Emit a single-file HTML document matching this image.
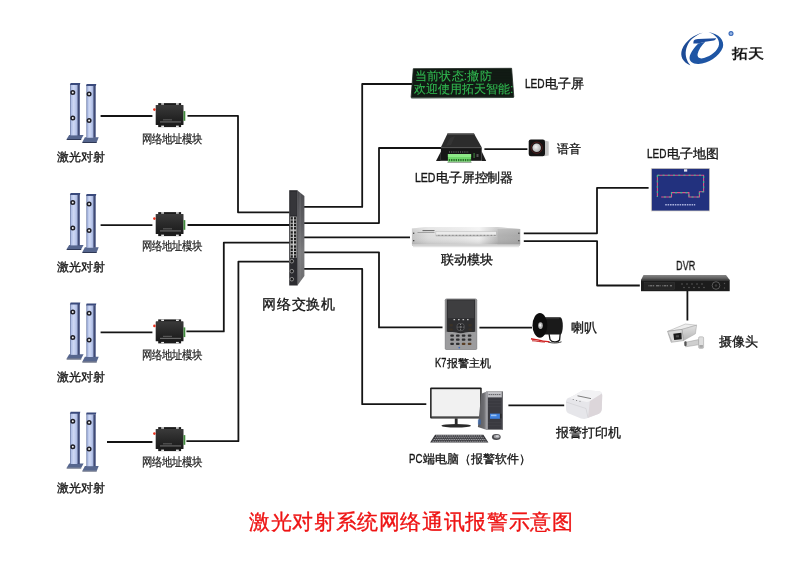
<!DOCTYPE html>
<html><head><meta charset="utf-8">
<style>
html,body{margin:0;padding:0;background:#fff;}
body{width:800px;height:579px;overflow:hidden;position:relative;font-family:"Liberation Sans",sans-serif;color:#151515;}
.t{position:absolute;white-space:nowrap;line-height:1;-webkit-text-stroke:0.32px #151515;will-change:transform;}
svg{position:absolute;left:0;top:0;}
.n{display:inline-block;transform-origin:0 0;font-size:12px;-webkit-text-stroke:0.35px #151515;}
</style></head><body>
<svg width="800" height="579" viewBox="0 0 800 579">
<defs>
 <linearGradient id="postF" x1="0" x2="1" y1="0" y2="0">
  <stop offset="0" stop-color="#8e9ece"/><stop offset="0.15" stop-color="#b4c2e8"/><stop offset="0.45" stop-color="#cfd9f4"/><stop offset="0.8" stop-color="#b6c4ea"/><stop offset="1" stop-color="#9aaad8"/>
 </linearGradient>
 <linearGradient id="modG" x1="0" x2="0" y1="0" y2="1">
  <stop offset="0" stop-color="#3a3a3a"/><stop offset="0.6" stop-color="#262626"/><stop offset="1" stop-color="#1a1a1a"/>
 </linearGradient>
 <linearGradient id="swSide" x1="0" x2="0" y1="0" y2="1">
  <stop offset="0" stop-color="#4c4c50"/><stop offset="0.35" stop-color="#606064"/><stop offset="0.65" stop-color="#7c7c7e"/><stop offset="1" stop-color="#6c6c6e"/>
 </linearGradient>
 <linearGradient id="linkG" x1="0" x2="1" y1="0" y2="0">
  <stop offset="0" stop-color="#c4c4c4"/><stop offset="0.15" stop-color="#dcdcdc"/><stop offset="0.45" stop-color="#e6e6e6"/><stop offset="0.62" stop-color="#f0f0f0"/><stop offset="0.78" stop-color="#bdbdbd"/><stop offset="1" stop-color="#aeaeae"/>
 </linearGradient>
 <linearGradient id="linkV" x1="0" x2="0" y1="0" y2="1">
  <stop offset="0" stop-color="#fff" stop-opacity="0.35"/><stop offset="0.5" stop-color="#fff" stop-opacity="0"/><stop offset="1" stop-color="#000" stop-opacity="0.12"/>
 </linearGradient>
 <linearGradient id="dvrTop" x1="0" x2="0" y1="0" y2="1">
  <stop offset="0" stop-color="#8a8a8a"/><stop offset="1" stop-color="#4a4a4a"/>
 </linearGradient>
 <linearGradient id="towerSide" x1="0" x2="1" y1="0" y2="0">
  <stop offset="0" stop-color="#58585c"/><stop offset="0.75" stop-color="#6e6e72"/><stop offset="1" stop-color="#9a9a9e"/>
 </linearGradient>
 <linearGradient id="towerF" x1="0" x2="1" y1="0" y2="0">
  <stop offset="0" stop-color="#8a8a8e"/><stop offset="0.12" stop-color="#3a3a3e"/><stop offset="0.88" stop-color="#3a3a3e"/><stop offset="1" stop-color="#7a7a7e"/>
 </linearGradient>
 <linearGradient id="camG" x1="0" x2="0" y1="0" y2="1">
  <stop offset="0" stop-color="#f6f6f6"/><stop offset="1" stop-color="#cfcfcf"/>
 </linearGradient>
 <linearGradient id="camSide" x1="0" x2="0" y1="0" y2="1"><stop offset="0" stop-color="#e2e2e2"/><stop offset="1" stop-color="#b4b4b4"/></linearGradient>
 <radialGradient id="spkC" cx="0.4" cy="0.4" r="0.6">
  <stop offset="0" stop-color="#f4f4f4"/><stop offset="1" stop-color="#b0b0b0"/>
 </radialGradient>
 <pattern id="ledDots" x="0" y="0" width="1.6" height="1.6" patternUnits="userSpaceOnUse">
  <rect width="1.6" height="1.6" fill="#0c140f"/><circle cx="0.8" cy="0.8" r="0.45" fill="#1d2e22"/>
 </pattern>
 <g id="posts">
  <polygon points="66.7,249.1 69.2,244.9 83.6,244.9 81.3,249.1" fill="#56668e"/>
  <polygon points="66.7,249.1 81.3,249.1 81.2,250 66.6,250" fill="#2e3856"/>
  <rect x="70.4" y="194.4" width="7.3" height="51" fill="url(#postF)"/>
  <rect x="70.1" y="194.4" width="0.6" height="51" fill="#5a6a98"/>
  <rect x="77.5" y="194.4" width="2.3" height="51" fill="#3e4a78"/>
  <polygon points="69.9,195.1 70.6,193.1 80.3,193.1 79.8,195.1" fill="#3a4a7c"/>
  <circle cx="72.8" cy="202.6" r="1.75" fill="#f6f6f6" stroke="#1e1e26" stroke-width="1.5"/>
  <circle cx="72.8" cy="228.1" r="1.75" fill="#f6f6f6" stroke="#1e1e26" stroke-width="1.5"/>
  <polygon points="82.4,252.1 84.9,247.3 98.7,247.3 96.8,252.1" fill="#56668e"/>
  <polygon points="82.4,252.1 96.8,252.1 96.7,253 82.3,253" fill="#2e3856"/>
  <rect x="86.8" y="195.8" width="6.6" height="51.8" fill="url(#postF)"/>
  <rect x="86.5" y="195.8" width="0.6" height="51.8" fill="#5a6a98"/>
  <rect x="93.3" y="195.8" width="2.4" height="51.8" fill="#3e4a78"/>
  <polygon points="86,196 86.6,194 96.3,194 95.8,196" fill="#3a4a7c"/>
  <circle cx="89.1" cy="203.9" r="1.75" fill="#f6f6f6" stroke="#1e1e26" stroke-width="1.5"/>
  <circle cx="89.1" cy="230.5" r="1.75" fill="#f6f6f6" stroke="#1e1e26" stroke-width="1.5"/>
 </g>
 <g id="mod">
  <rect x="158.2" y="212.1" width="22.9" height="24" fill="#1c1c1c"/>
  <rect x="161.2" y="212.2" width="2.8" height="1.5" fill="#e6e6e6"/>
  <rect x="176" y="212.2" width="2.8" height="1.5" fill="#e6e6e6"/>
  <rect x="161.2" y="234.6" width="2.8" height="1.4" fill="#e6e6e6"/>
  <rect x="176" y="234.6" width="2.8" height="1.4" fill="#e6e6e6"/>
  <rect x="155.7" y="214" width="27.8" height="20" rx="0.6" fill="url(#modG)"/>
  <rect x="183.5" y="220.1" width="1.8" height="9.7" fill="#3f8a3a"/>
  <circle cx="154.4" cy="218.6" r="1.3" fill="#e8321e"/>
  <rect x="163" y="228.6" width="9" height="0.6" fill="#8a8a8a"/>
  <rect x="160" y="230.6" width="21" height="0.7" fill="#9a9a9a"/>
 </g>
</defs>

<!-- connection lines -->
<g fill="none" stroke="#141414" stroke-width="1.8" stroke-linejoin="round">
 <path d="M100.6 116H152.4"/>
 <path d="M100.6 225.2H152.4"/>
 <path d="M100.6 332.4H152.4"/>
 <path d="M107 442H152.4" stroke-width="2"/>
 <path d="M187.5 115.8H238V212.3H289.5"/>
 <path d="M187.5 225H289.5"/>
 <path d="M186.4 331.4H223.8V242.6H289.5"/>
 <path d="M186.4 441.2H238.4V261.6H289.5"/>
 <path d="M304 206.9H362.2V84H412"/>
 <path d="M304 223.1H379V148H441"/>
 <path d="M304 237.4H410"/>
 <path d="M304 252.3H379V327.4H442.5"/>
 <path d="M304 268.8H362.2V404.2H426.3"/>
 <path d="M484.4 149.1H527.4"/>
 <path d="M479.4 327.6H532"/>
 <path d="M508.4 405.4H564.2"/>
 <path d="M523.8 233.3H597V187.9H648.6"/>
 <path d="M523.8 241.2H597.1V285.5H639.8"/>
 <path d="M687.4 291V320.5"/>
</g>

<use href="#posts" transform="translate(0,-110)"/>
<use href="#posts"/>
<use href="#posts" transform="translate(0,109.4)"/>
<use href="#posts" transform="translate(0,218.6)"/>
<use href="#mod" transform="translate(0,-109)"/>
<use href="#mod"/>
<use href="#mod" transform="translate(0,107.3)"/>
<use href="#mod" transform="translate(0,215)"/>
<!-- switch -->
<polygon points="297.4,190.4 304.4,196 304.4,276 297.4,285.5" fill="url(#swSide)"/>
<rect x="299.8" y="193" width="0.5" height="88" fill="#9a9a9c" opacity="0.6"/>
<rect x="289.2" y="190.2" width="8.4" height="95.3" fill="#2c2c30"/>
<rect x="290.3" y="192" width="6.2" height="23" fill="#36363a"/>
<rect x="290.1" y="216.6" width="6.6" height="41.2" fill="#b4b4b4"/>
<g fill="#1e1e1e">
<rect x="290.7" y="217.2" width="2.1" height="2.3"/><rect x="294.0" y="217.2" width="2.1" height="2.3"/>
<rect x="290.7" y="220.5" width="2.1" height="2.3"/><rect x="294.0" y="220.5" width="2.1" height="2.3"/>
<rect x="290.7" y="223.8" width="2.1" height="2.3"/><rect x="294.0" y="223.8" width="2.1" height="2.3"/>
<rect x="290.7" y="227.1" width="2.1" height="2.3"/><rect x="294.0" y="227.1" width="2.1" height="2.3"/>
<rect x="290.7" y="231.3" width="2.1" height="2.3"/><rect x="294.0" y="231.3" width="2.1" height="2.3"/>
<rect x="290.7" y="234.6" width="2.1" height="2.3"/><rect x="294.0" y="234.6" width="2.1" height="2.3"/>
<rect x="290.7" y="237.9" width="2.1" height="2.3"/><rect x="294.0" y="237.9" width="2.1" height="2.3"/>
<rect x="290.7" y="241.2" width="2.1" height="2.3"/><rect x="294.0" y="241.2" width="2.1" height="2.3"/>
<rect x="290.7" y="245.4" width="2.1" height="2.3"/><rect x="294.0" y="245.4" width="2.1" height="2.3"/>
<rect x="290.7" y="248.7" width="2.1" height="2.3"/><rect x="294.0" y="248.7" width="2.1" height="2.3"/>
<rect x="290.7" y="252.0" width="2.1" height="2.3"/><rect x="294.0" y="252.0" width="2.1" height="2.3"/>
<rect x="290.7" y="255.3" width="2.1" height="2.3"/><rect x="294.0" y="255.3" width="2.1" height="2.3"/>
</g>
<rect x="293.2" y="216.6" width="0.5" height="41.2" fill="#e8e8e8"/>
<circle cx="291.8" cy="261.2" r="1.8" fill="#1a1a1a" stroke="#9a9a9a" stroke-width="0.9"/>
<circle cx="291.8" cy="271.2" r="1.8" fill="#1a1a1a" stroke="#9a9a9a" stroke-width="0.9"/>
<circle cx="291.8" cy="279.2" r="1.8" fill="#1a1a1a" stroke="#9a9a9a" stroke-width="0.9"/>

<!-- LED screen -->
<polygon points="413.3,68.7 511.6,68.3 513.8,96.9 411.1,97.4" fill="url(#ledDots)" stroke="#202822" stroke-width="0.8"/>
<polygon points="411.1,97.4 513.8,96.9 513.6,98 411.4,98.6" fill="#3a4a40"/>

<!-- LED controller -->
<polygon points="447.5,133.6 474,133.6 481.8,147.6 440.8,147.6" fill="#2c2c2c"/>
<polygon points="447.5,133.6 474,133.6 474.6,135 447,135" fill="#4a4a4a"/>
<polygon points="450,138 455,136 451,145 446,146" fill="#3a3a3a" opacity="0.6"/>
<polygon points="436,161 440.9,151.5 440.9,161" fill="#1c1c1c"/>
<polygon points="486.2,161 481.7,151.5 481.7,161" fill="#1c1c1c"/>
<rect x="440.9" y="147.6" width="40.8" height="13.2" fill="#161616"/>
<rect x="440.9" y="147.6" width="40.8" height="0.6" fill="#3c3c3c"/>
<path d="M449 152H469" stroke="#9a9a9a" stroke-width="0.8" stroke-dasharray="1 1.2"/>
<rect x="447.9" y="154" width="23.2" height="7.8" fill="#6fd86a"/>
<rect x="447.9" y="154" width="23.2" height="3" fill="#8ee888"/>
<g fill="#2a6a2a"><rect x="448.8" y="159" width="1.3" height="2.2"/><rect x="451.1" y="159" width="1.3" height="2.2"/><rect x="453.4" y="159" width="1.3" height="2.2"/><rect x="455.7" y="159" width="1.3" height="2.2"/><rect x="458" y="159" width="1.3" height="2.2"/><rect x="460.3" y="159" width="1.3" height="2.2"/><rect x="462.6" y="159" width="1.3" height="2.2"/><rect x="464.9" y="159" width="1.3" height="2.2"/><rect x="467.2" y="159" width="1.3" height="2.2"/><rect x="469.5" y="159" width="1.2" height="2.2"/></g>
<rect x="447.5" y="161.8" width="24" height="1" fill="#8a9a8a"/>
<rect x="473.5" y="153" width="1.2" height="5" fill="#3a7a3a"/>
<rect x="476.5" y="154" width="2" height="3" fill="#555"/>

<!-- speaker -->
<polygon points="544.5,140.4 548.7,141.5 548.7,155.6 544.5,156.2" fill="#c4c4c4"/>
<rect x="528.7" y="139.4" width="16.3" height="16.8" rx="2.2" fill="#141414"/>
<circle cx="536.7" cy="147.7" r="5.6" fill="none" stroke="#7a2222" stroke-width="0.6"/>
<circle cx="536.7" cy="147.7" r="4.3" fill="url(#spkC)"/>

<!-- link module -->
<polygon points="411.9,228.6 426,227 497.5,227 520.2,229.1 520.2,244.4 411.9,244.4" fill="url(#linkG)"/>
<polygon points="411.9,228.6 426,227 497.5,227 520.2,229.1 520.2,244.4 411.9,244.4" fill="url(#linkV)"/>
<rect x="412" y="244.4" width="108" height="1.4" fill="#c4c4c4"/>
<rect x="413" y="245.8" width="106" height="1.4" fill="#e2e2e2"/>
<rect x="497.5" y="229" width="22.7" height="15.4" fill="#a0a0a0" opacity="0.35"/>
<rect x="435.9" y="231.5" width="60.4" height="5.2" fill="#ebebeb" stroke="#a8a8a8" stroke-width="0.35"/>
<path d="M436.5 235.3H496" stroke="#5a5a5a" stroke-width="0.9" stroke-dasharray="0.9 0.5"/>
<rect x="422.5" y="230.2" width="12" height="0.9" fill="#555"/>
<rect x="417.5" y="232" width="17" height="0.7" fill="#888"/>
<rect x="413" y="232.6" width="1.3" height="1.3" fill="#444"/>
<rect x="413" y="240" width="1.3" height="1.3" fill="#444"/>
<rect x="518.2" y="232.6" width="1.3" height="1.3" fill="#444"/>
<rect x="518.2" y="240" width="1.3" height="1.3" fill="#444"/>

<!-- LED map -->
<rect x="650.9" y="168" width="59.1" height="43.4" fill="#dcd8cc"/>
<rect x="651.8" y="168.8" width="57.4" height="41.8" fill="#22317e"/>
<path d="M657.4 175.3H703.6V191.7H699.4V197H688.9V192.6H671.5V197H661.2M657.4 175.3V197" fill="none" stroke="#e0508c" stroke-width="1.1"/>
<path d="M657.4 175.3H703.6V191.7H699.4V197H688.9V192.6H671.5V197H661.2M657.4 175.3V197" fill="none" stroke="#34c490" stroke-width="1.1" stroke-dasharray="2 3.2"/>
<rect x="684" y="169.3" width="3.2" height="2.3" fill="#e8e8f0"/>
<path d="M665.2 204.7H695.2" stroke="#a8b0dc" stroke-width="1.6" stroke-dasharray="1.6 0.8"/>

<!-- DVR -->
<polygon points="643.5,274.9 726,274.9 729.7,279.9 641,279.9" fill="url(#dvrTop)"/>
<rect x="641" y="279.9" width="88.7" height="11.3" fill="#1c1c1c"/>
<rect x="641" y="279.9" width="88.7" height="0.6" fill="#555"/>
<rect x="644.8" y="282.4" width="30" height="6.8" fill="#262626" stroke="#3a3a3a" stroke-width="0.4"/>
<path d="M648.5 285.8H672" stroke="#a8a8a8" stroke-width="0.8" stroke-dasharray="1 0.6 2 0.6 1.5 1.8 3 0.6 1 1.8"/>
<g fill="#6a6a6a"><circle cx="682" cy="284" r="0.7"/><circle cx="687" cy="284" r="0.7"/><circle cx="692" cy="284" r="0.7"/><circle cx="697" cy="284" r="0.7"/><circle cx="702" cy="284" r="0.7"/><circle cx="684" cy="287.5" r="0.7"/><circle cx="689" cy="287.5" r="0.7"/><circle cx="694" cy="287.5" r="0.7"/><circle cx="699" cy="287.5" r="0.7"/><circle cx="704" cy="287.5" r="0.7"/></g>
<circle cx="716" cy="285.5" r="3.8" fill="#181818" stroke="#6a6a6a" stroke-width="0.8"/>
<circle cx="716" cy="285.5" r="1.3" fill="#3a3a3a"/>
<circle cx="724.5" cy="283.5" r="0.7" fill="#555"/><circle cx="724.5" cy="288" r="0.7" fill="#555"/>

<!-- camera -->
<path d="M684.2 342.6L698.5 339.6L699.5 344.6L685.6 346.8Z" fill="#cfcfcf" stroke="#9a9a9a" stroke-width="0.5"/>
<rect x="698.6" y="336.8" width="5" height="11.6" rx="1.2" fill="#dedede" stroke="#9a9a9a" stroke-width="0.5"/>
<rect x="699.3" y="345" width="3.6" height="2.8" fill="#a8a8a8"/>
<rect x="684.4" y="341.2" width="2.2" height="4.8" rx="0.8" fill="#555"/>
<polygon points="667.6,331.4 685.4,324 696.6,325.2 682,329.4" fill="#eeeeee" stroke="#a0a0a0" stroke-width="0.5" stroke-linejoin="round"/>
<polygon points="682,329.4 696.6,325.2 695.4,333.8 683.4,340.6" fill="url(#camSide)" stroke="#a0a0a0" stroke-width="0.5" stroke-linejoin="round"/>
<polygon points="667.6,331.4 682,329.4 683.4,340.6 671.2,342.3" fill="#dadada" stroke="#8a8a8a" stroke-width="0.5" stroke-linejoin="round"/>
<polygon points="673.3,333.8 681.4,332.8 681.8,339.2 674.2,339.9" fill="#1a1a1a"/>
<rect x="675.8" y="335.2" width="3.2" height="2.2" fill="#4a4a4a"/>
<path d="M668.5 333.5L671.8 341.5" stroke="#b0b0b0" stroke-width="0.8"/>
<!-- K7 -->
<rect x="444.8" y="298.5" width="32.4" height="51.6" rx="1.8" fill="#8e8e90"/>
<rect x="445.6" y="332" width="30.8" height="17.6" rx="1" fill="#9c9c9e"/>
<path d="M446.8 299.6H475.1V331.5C475.1 332 471 332 469 332C466 332 464.5 333.2 460.8 333.2C457 333.2 455.5 332 452.5 332C450 332 446.8 332 446.8 331.5Z" fill="#2e2e30"/>
<rect x="447.8" y="300.4" width="26.4" height="17.8" fill="#3e3e40"/>
<g fill="#e6e6e6"><rect x="453.5" y="319.2" width="1.6" height="1"/><rect x="458" y="319.2" width="1.6" height="1"/><rect x="462.5" y="319.2" width="1.6" height="1"/><rect x="467" y="319.2" width="1.6" height="1"/></g>
<circle cx="460.6" cy="327.1" r="4.1" fill="#5a5a5c"/>
<circle cx="460.6" cy="327.1" r="3.3" fill="#252527"/>
<circle cx="460.6" cy="327.1" r="1.3" fill="#6a6a6c"/>
<g fill="#bbb"><rect x="460.1" y="324" width="1" height="0.8"/><rect x="460.1" y="329.4" width="1" height="0.8"/><rect x="457.6" y="326.7" width="0.8" height="0.8"/><rect x="462.8" y="326.7" width="0.8" height="0.8"/></g>
<rect x="449.5" y="324" width="3.4" height="2.4" rx="0.6" fill="#3a3228"/>
<rect x="449.5" y="328.4" width="3.4" height="2.4" rx="0.6" fill="#3a3228"/>
<rect x="468.4" y="324" width="3.4" height="2.4" rx="0.6" fill="#3a3228"/>
<rect x="468.4" y="328.4" width="3.4" height="2.4" rx="0.6" fill="#3a3228"/>
<g fill="#2e2e30"><rect x="450.3" y="334.4" width="3.6" height="2.4" rx="0.8"/><rect x="456" y="334.4" width="3.6" height="2.4" rx="0.8"/><rect x="461.8" y="334.4" width="3.6" height="2.4" rx="0.8"/><rect x="467.8" y="334.4" width="3.6" height="2.4" rx="0.8"/><rect x="450.3" y="338.4" width="3.6" height="2.4" rx="0.8"/><rect x="456" y="338.4" width="3.6" height="2.4" rx="0.8"/><rect x="461.8" y="338.4" width="3.6" height="2.4" rx="0.8"/><rect x="467.8" y="338.4" width="3.6" height="2.4" rx="0.8"/><rect x="450.3" y="342.7" width="3.6" height="2.4" rx="0.8"/><rect x="456" y="342.7" width="3.6" height="2.4" rx="0.8"/></g>
<g fill="#5a3f26"><rect x="461.8" y="342.7" width="3.6" height="2.4" rx="0.8"/><rect x="467.8" y="342.7" width="3.6" height="2.4" rx="0.8"/></g>
<circle cx="459.3" cy="347.6" r="0.9" fill="#3c6ac0"/>

<!-- horn -->
<path d="M549 333.5L550 339.5C551.5 342.5 557.5 342.8 559.6 340L560.2 333.5" fill="none" stroke="#151515" stroke-width="1.3"/>
<path d="M547.5 341.5C550 343.2 557 343.6 561.5 341.8" fill="none" stroke="#222" stroke-width="0.9"/>
<path d="M540 317.3H560.4A2.4 8.65 0 0 1 560.4 334.6H540Z" fill="#1a1a1a"/>
<rect x="545" y="318" width="14" height="1.2" fill="#3a3a3a" opacity="0.6"/>
<ellipse cx="539.9" cy="325.4" rx="7.4" ry="12.3" fill="#0e0e0e"/>
<ellipse cx="540.5" cy="325.6" rx="2.3" ry="3.4" fill="#b4b4b4"/>
<ellipse cx="540.2" cy="325.2" rx="1" ry="1.6" fill="#eee"/>
<path d="M531 338.8C535 339.8 538 339.6 541 340.6C544 341.6 547 341.2 549.5 342" fill="none" stroke="#d42020" stroke-width="1.4"/>
<path d="M532 340.8C536 340.6 540 342.2 545 342" fill="none" stroke="#c82424" stroke-width="1"/>

<!-- PC -->
<rect x="430.1" y="387.5" width="51.6" height="31" rx="1" fill="#1c1c1c"/>
<rect x="431.6" y="389.2" width="48.6" height="27.2" fill="#f1f1f1"/>
<rect x="431.6" y="416.4" width="48.6" height="1" fill="#8a8a8a"/>
<rect x="454.8" y="418.4" width="2.8" height="6" fill="#2a2a2a"/>
<ellipse cx="456.2" cy="425.8" rx="14.8" ry="1.8" fill="#2a2a2a"/>
<polygon points="481.3,393.8 486.2,391.7 486.2,429.8 477.9,427" fill="url(#towerSide)"/>
<rect x="477.9" y="419.5" width="3" height="5" fill="#3a6ab0" opacity="0.7"/>
<rect x="486.1" y="391.6" width="16.8" height="38" fill="#3a3a40"/>
<rect x="486.1" y="391.6" width="1.7" height="38" fill="#a8a8ac"/>
<rect x="501.8" y="391.6" width="1.1" height="38" fill="#707074"/>
<rect x="487.8" y="392" width="14" height="5.4" fill="#c2c2c6"/>
<path d="M488.5 394.6H501" stroke="#55555a" stroke-width="0.9" stroke-dasharray="1.5 0.6"/>
<g fill="#44444a"><rect x="488" y="400" width="13.5" height="0.5"/><rect x="488" y="403" width="13.5" height="0.5"/><rect x="488" y="406" width="13.5" height="0.5"/><rect x="488" y="422" width="13.5" height="0.5"/><rect x="488" y="425" width="13.5" height="0.5"/></g>
<rect x="490" y="413.6" width="9.9" height="5.2" fill="#3f80dc"/>
<rect x="491" y="414.6" width="5.5" height="1.6" fill="#9cc4f2"/>
<rect x="500.3" y="413.8" width="1.2" height="4.5" fill="#222"/>
<polygon points="435.1,434.7 483.4,434.7 488.4,442.5 430.1,442.5" fill="#36363a"/>
<g stroke="#9a9a9e" stroke-width="1.1" stroke-dasharray="1.6 0.6"><path d="M436 435.9H482.5"/><path d="M434.8 437.7H484"/><path d="M433.6 439.5H485.3"/><path d="M432.4 441.3H486.5"/></g>
<ellipse cx="496.3" cy="436.9" rx="4.4" ry="3" fill="#4a4a4e"/>
<ellipse cx="496.8" cy="436.6" rx="3" ry="1.9" fill="#a0a0a4"/>
<ellipse cx="497.3" cy="436.2" rx="1.6" ry="1" fill="#d0d0d4"/>

<!-- printer -->
<path d="M566 402C566 399 568 397.5 570.4 397.3L583.6 389.9L599 391.3C601.5 391.8 602.3 393.5 602.2 396L601.8 409C601.6 412 600 413.5 597 414.5L586.5 418.6C585 419 583 419 581 418.5L568.8 413.5C567 412.7 566 411 566 408.5Z" fill="#e6e6ea"/>
<path d="M570.4 397.3L583.6 389.9L599 391.3C601.5 391.8 602 393 600.5 394.5L589.8 401.2C588.5 402 587 402.2 585.5 401.8L572 398.8C570.5 398.4 570 397.8 570.4 397.3Z" fill="#f2f2f4"/>
<path d="M589.8 401.2L600.5 394.5C602 393.5 602.3 394.5 602.2 396L601.8 409C601.6 412 600 413.5 597 414.5L588 417.8Z" fill="#dcd6da"/>
<path d="M566 402L586 408.5 588 417.8" fill="none" stroke="#c8c8cc" stroke-width="0.5"/>
<path d="M577.5 395.8L591 398.6" stroke="#707070" stroke-width="0.9"/>
<g fill="#6a6a6a"><circle cx="573.2" cy="399.6" r="0.5"/><circle cx="576.6" cy="400.4" r="0.5"/><circle cx="580" cy="401.2" r="0.5"/></g>

<!-- logo -->
<path d="M702.8 32.8C694 34.5 685.5 41 682 49.5C679.8 56 682.5 62 690.5 65.5C686.8 61.5 685 56 685.9 50.6C687 44 691 38.8 696 36C698 34.6 700.3 33.5 702.8 32.8Z" fill="#1d4b96"/>
<path d="M698.3 43.6C694.5 47.5 690.5 52.5 689.6 57C689 61 692.5 64.2 698.5 64C708 63.6 719.5 56.5 722.8 47.5C725 40.5 719 33.8 708.4 32C714.8 34.3 719.6 38.6 719 44.5C718.2 50.5 711 56 704 58C699.5 59.2 697 57.5 697.6 54C698.4 50 701.5 45.5 705.3 41.7Z" fill="#1e55a4"/>
<path d="M693.6 40.9C694.5 39.6 696 39.2 698 39L716.2 38.2C715.5 39.6 714.8 40.3 713.8 40.5L705.3 41.7L698.3 43.6L693.3 43.6Z" fill="#1c4c9c"/>
<circle cx="731" cy="33.6" r="2.5" fill="#3566b8"/>
<circle cx="731" cy="33.6" r="1.4" fill="#9ab8e4"/>
</svg>
<div class="t" style="left:57.4px;top:150.9px;font-size:12.3px">激光对射</div>
<div class="t" style="left:57.4px;top:260.9px;font-size:12.3px">激光对射</div>
<div class="t" style="left:57.4px;top:370.9px;font-size:12.3px">激光对射</div>
<div class="t" style="left:57.4px;top:481.9px;font-size:12.3px">激光对射</div>
<div class="t" style="left:142px;top:133.6px;font-size:10.4px;color:#1e1e1e;-webkit-text-stroke:0.2px #1e1e1e;transform:scaleY(1.15);transform-origin:0 0">网络地址模块</div>
<div class="t" style="left:142px;top:240.8px;font-size:10.4px;color:#1e1e1e;-webkit-text-stroke:0.2px #1e1e1e;transform:scaleY(1.15);transform-origin:0 0">网络地址模块</div>
<div class="t" style="left:142px;top:349.6px;font-size:10.4px;color:#1e1e1e;-webkit-text-stroke:0.2px #1e1e1e;transform:scaleY(1.15);transform-origin:0 0">网络地址模块</div>
<div class="t" style="left:142px;top:457.4px;font-size:10.4px;color:#1e1e1e;-webkit-text-stroke:0.2px #1e1e1e;transform:scaleY(1.15);transform-origin:0 0">网络地址模块</div>
<div class="t" style="left:262px;top:298.2px;font-size:13.6px;letter-spacing:0.75px">网络交换机</div>
<div class="t" style="left:524.5px;top:78px;font-size:12.8px"><span class="n" style="width:20px;transform:scaleX(.84)">LED</span>电子屏</div>
<div class="t" style="left:415px;top:172.3px;font-size:12.5px;letter-spacing:-0.15px"><span class="n" style="width:21px;transform:scaleX(.88)">LED</span>电子屏控制器</div>
<div class="t" style="left:557px;top:143px;font-size:12.4px">语音</div>
<div class="t" style="left:441px;top:254px;font-size:12.6px">联动模块</div>
<div class="t" style="left:647.3px;top:147.7px;font-size:12.8px"><span class="n" style="width:19.8px;transform:scaleX(.83)">LED</span>电子地图</div>
<div class="t" style="left:675.9px;top:259.6px;font-size:12px;transform:scaleX(0.76);transform-origin:0 0;-webkit-text-stroke:0.35px #151515">DVR</div>
<div class="t" style="left:719px;top:336px;font-size:12.6px">摄像头</div>
<div class="t" style="left:434.5px;top:357px;font-size:11.4px;letter-spacing:0.15px"><span class="n" style="width:12px;transform:scaleX(.77)">K7</span>报警主机</div>
<div class="t" style="left:571px;top:322px;font-size:12.6px">喇叭</div>
<div class="t" style="left:556px;top:427px;font-size:12.8px">报警打印机</div>
<div class="t" style="left:409px;top:453px;font-size:12.2px"><span class="n" style="width:14px;transform:scaleX(.8)">PC</span>端电脑（报警软件）</div>
<div class="t" style="left:249px;top:512px;font-size:21.4px;letter-spacing:0.64px;color:#ee1414;-webkit-text-stroke:0.35px #ee1414">激光对射系统网络通讯报警示意图</div>
<div class="t" style="left:732px;top:47.3px;font-size:16px;font-weight:700;transform:scaleY(0.86);transform-origin:0 0;-webkit-text-stroke:0">拓天</div>
<div class="t" style="left:414.5px;top:70px;font-size:12px;letter-spacing:0.2px;color:#30b850;-webkit-text-stroke:0.1px #30b850">当前状态:撤防</div>
<div class="t" style="left:413.5px;top:82.6px;font-size:12px;color:#30b850;-webkit-text-stroke:0.1px #30b850">欢迎使用拓天智能:</div>
</body></html>
